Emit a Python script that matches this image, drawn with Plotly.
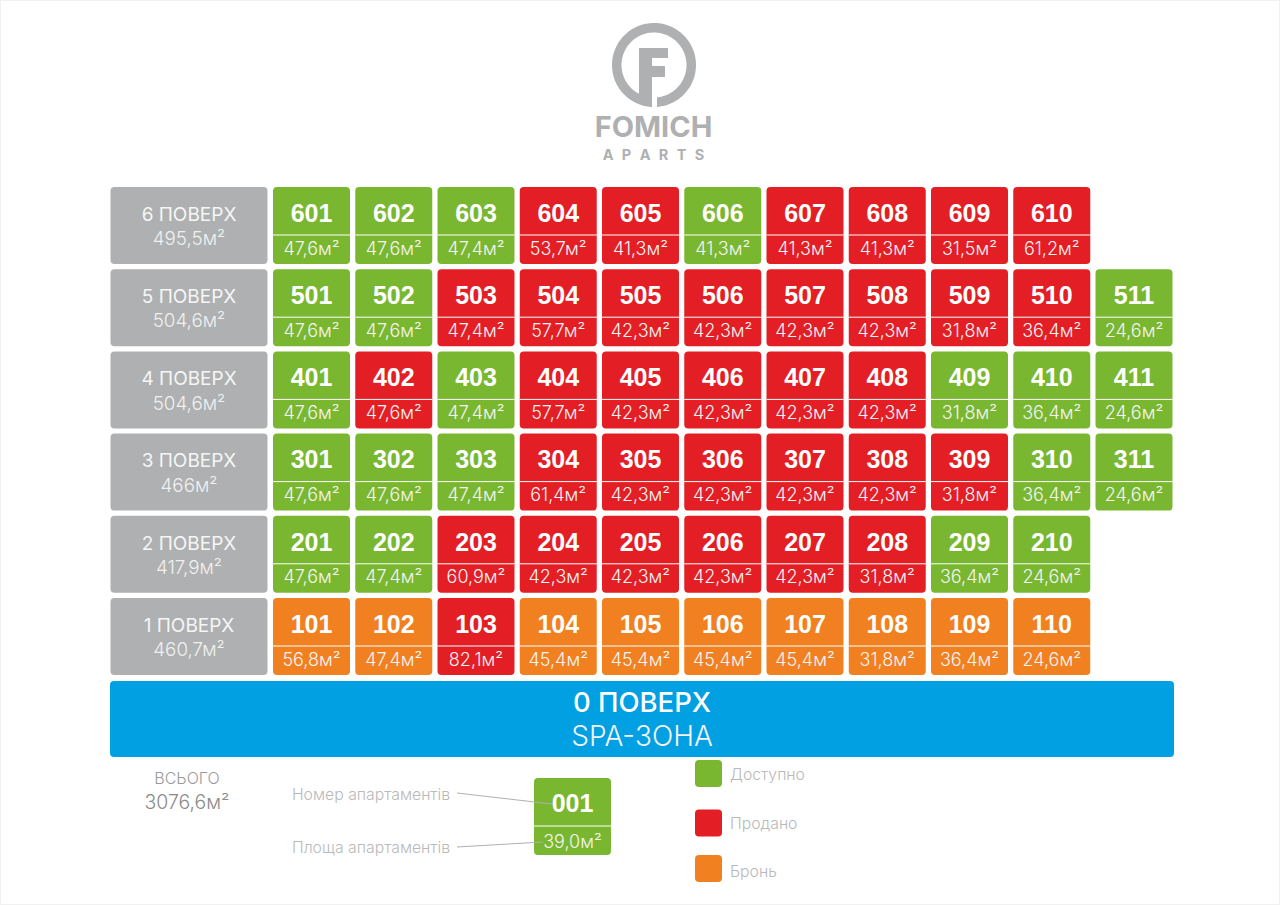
import numpy as np
import plotly.graph_objects as go

# floors, top to bottom
floor_names = ['6 ПОВЕРХ', '5 ПОВЕРХ', '4 ПОВЕРХ', '3 ПОВЕРХ', '2 ПОВЕРХ', '1 ПОВЕРХ']
floor_totals = ['495,5', '504,6', '504,6', '466', '417,9', '460,7']

rooms_6 = [601, 602, 603, 604, 605, 606, 607, 608, 609, 610]
rooms_5 = [501, 502, 503, 504, 505, 506, 507, 508, 509, 510, 511]
rooms_4 = [401, 402, 403, 404, 405, 406, 407, 408, 409, 410, 411]
rooms_3 = [301, 302, 303, 304, 305, 306, 307, 308, 309, 310, 311]
rooms_2 = [201, 202, 203, 204, 205, 206, 207, 208, 209, 210]
rooms_1 = [101, 102, 103, 104, 105, 106, 107, 108, 109, 110]

areas_6 = [47.6, 47.6, 47.4, 53.7, 41.3, 41.3, 41.3, 41.3, 31.5, 61.2]
areas_5 = [47.6, 47.6, 47.4, 57.7, 42.3, 42.3, 42.3, 42.3, 31.8, 36.4, 24.6]
areas_4 = [47.6, 47.6, 47.4, 57.7, 42.3, 42.3, 42.3, 42.3, 31.8, 36.4, 24.6]
areas_3 = [47.6, 47.6, 47.4, 61.4, 42.3, 42.3, 42.3, 42.3, 31.8, 36.4, 24.6]
areas_2 = [47.6, 47.4, 60.9, 42.3, 42.3, 42.3, 42.3, 31.8, 36.4, 24.6]
areas_1 = [56.8, 47.4, 82.1, 45.4, 45.4, 45.4, 45.4, 31.8, 36.4, 24.6]

# g - available, r - sold, o - booked
status_6 = list('gggrrgrrrr')
status_5 = list('ggrrrrrrrrg')
status_4 = list('grgrrrrrggg')
status_3 = list('gggrrrrrrgg')
status_2 = list('ggrrrrrrgg')
status_1 = list('oorooooooo')

rooms = [rooms_6, rooms_5, rooms_4, rooms_3, rooms_2, rooms_1]
areas = [areas_6, areas_5, areas_4, areas_3, areas_2, areas_1]
statuses = [status_6, status_5, status_4, status_3, status_2, status_1]

legend_labels = ['Доступно', 'Продано', 'Бронь']
legend_status = ['g', 'r', 'o']

GREEN = '#7ab730'
RED = '#e31e24'
ORANGE = '#f18120'
GREY = '#aeb0b1'
BLUE = '#00a0e3'
colors = {'g': GREEN, 'r': RED, 'o': ORANGE}

# grid layout in page pixels
X0, Y0 = 273.0, 187.0
PITCH_X, PITCH_Y = 82.25, 82.2
CELL = 77
LINE_Y = 48

NUM_FONT = dict(family='Liberation Sans', size=25, color='white', weight=700)
AREA_FONT = dict(family='Inter', size=18, color='#f4f4f4', weight=300)


def fmt_area(v):
    return f'{v:.1f}'.replace('.', ',') + 'м²'


def text_trace(xs, ys, labels, font):
    return go.Scatter(x=xs, y=ys, text=labels, mode='text', textposition='middle center',
                      textfont=font, hoverinfo='skip', showlegend=False)


fig = go.Figure()

# floor label boxes
floor_tops = [Y0 + i * PITCH_Y for i in range(len(floor_names))]
fig.add_trace(go.Bar(x=[189] * 6, y=[CELL] * 6, base=floor_tops, width=157,
                     marker=dict(color=GREY, line_width=0), hoverinfo='skip', showlegend=False))
fig.add_trace(text_trace([189] * 6, [t + 29 for t in floor_tops], floor_names,
                         dict(family='Inter', size=19, color='#f6f6f6', weight=400)))
fig.add_trace(text_trace([189] * 6, [t + 53.5 for t in floor_tops],
                         [t + 'м²' for t in floor_totals],
                         dict(family='Inter', size=18.8, color='#f0f0f0', weight=300)))

# apartments, floor by floor
line_x, line_y = [], []
for row in range(len(rooms)):
    top = floor_tops[row]
    xs = [X0 + CELL / 2 + i * PITCH_X for i in range(len(rooms[row]))]
    fig.add_trace(go.Bar(x=xs, y=[CELL] * len(xs), base=[top] * len(xs), width=CELL,
                         marker=dict(color=[colors[s] for s in statuses[row]], line_width=0),
                         hoverinfo='skip', showlegend=False))
    fig.add_trace(text_trace(xs, [top + 28.5] * len(xs), rooms[row], NUM_FONT))
    fig.add_trace(text_trace(xs, [top + 63] * len(xs), [fmt_area(a) for a in areas[row]], AREA_FONT))
    for x in xs:
        line_x += [x - CELL / 2, x + CELL / 2, None]
        line_y += [top + LINE_Y, top + LINE_Y, None]

# floor 0
fig.add_trace(go.Bar(x=[642], y=[76], base=[681], width=1064,
                     marker=dict(color=BLUE, line_width=0), hoverinfo='skip', showlegend=False))
fig.add_trace(text_trace([642], [705], ['0 ПОВЕРХ'],
                         dict(family='Inter', size=27.5, color='white', weight=500)))
fig.add_trace(text_trace([642], [739], ['SPA-ЗОНА'],
                         dict(family='Inter', size=28, color='#f4f4f4', weight=300)))

# sample apartment
fig.add_trace(go.Bar(x=[572.5], y=[CELL], base=[778], width=CELL,
                     marker=dict(color=GREEN, line_width=0), hoverinfo='skip', showlegend=False))
line_x += [534, 611, None]
line_y += [826, 826, None]

fig.add_trace(go.Scatter(x=line_x, y=line_y, mode='lines', line=dict(color='white', width=1),
                         hoverinfo='skip', showlegend=False))

# leader lines to the sample
fig.add_trace(go.Scatter(x=[457, 552, None, 457, 543], y=[793, 804, None, 847, 842], mode='lines',
                         line=dict(color='#b0b0b0', width=1), hoverinfo='skip', showlegend=False))
fig.add_trace(text_trace([572.5], [805.5], ['001'], NUM_FONT))
fig.add_trace(text_trace([572.5], [843], [fmt_area(39.0)], AREA_FONT))
fig.add_trace(text_trace([371, 371], [796, 849], ['Номер апартаментів', 'Площа апартаментів'],
                         dict(family='Inter', size=15.8, color='#b9b9b9', weight=300)))

# totals
fig.add_trace(text_trace([187], [780], ['ВСЬОГО'], dict(family='Inter', size=16, color='#9a9a9a', weight=300)))
fig.add_trace(text_trace([187], [804], ['3076,6м²'], dict(family='Inter', size=19.4, color='#8a8a8a', weight=300)))

# legend
legend_tops = [760, 809.5, 855]
fig.add_trace(go.Bar(x=[708.5] * 3, y=[27] * 3, base=legend_tops, width=27,
                     marker=dict(color=[colors[s] for s in legend_status], line_width=0),
                     hoverinfo='skip', showlegend=False))
fig.add_trace(go.Scatter(x=[730] * 3, y=[776, 825, 873], text=legend_labels, mode='text',
                         textposition='middle right',
                         textfont=dict(family='Inter', size=15.8, color='#b9b9b9', weight=300),
                         hoverinfo='skip', showlegend=False))

# logo: ring with a gap at the bottom, F on top
cx, cy, r_out, r_in = 654, 65, 42, 32.5
gap_l, gap_r = 652, 657


def arc(radius):
    a = np.linspace(np.arcsin((cx - gap_l) / radius), 2 * np.pi + np.arcsin((cx - gap_r) / radius), 120)
    return [(cx - radius * np.sin(t), cy + radius * np.cos(t)) for t in a]


ring = 'M ' + ' L '.join(f'{x:.2f},{y:.2f}' for x, y in arc(r_out) + arc(r_in)[::-1]) + ' Z'
logo_f = 'M 639,48 L 668,48 L 668,58 L 652,58 L 652,66 L 665,66 L 665,77 L 652,77 L 652,107 L 639,104 Z'

fig.add_trace(text_trace([653.5], [129.5], ['FOMICH'],
                         dict(family='Inter', size=29, color=GREY, weight=700)))
fig.add_trace(text_trace([653.5], [156], ['A\u2002\u200aP\u2002\u200aA\u2002\u200aR\u2002\u200aT\u2002\u200aS'],
                         dict(family='Inter', size=14.5, color=GREY, weight=700)))

fig.update_layout(
    width=1280, height=905,
    margin=dict(l=0, r=0, t=0, b=0),
    paper_bgcolor='white', plot_bgcolor='white',
    barmode='overlay', barcornerradius=4,
    xaxis=dict(range=[0, 1280], visible=False, fixedrange=True),
    yaxis=dict(range=[905, 0], visible=False, fixedrange=True),
    shapes=[dict(type='path', path=ring, fillcolor=GREY, line_width=0),
            dict(type='path', path=logo_f, fillcolor=GREY, line_width=0),
            dict(type='rect', x0=0, x1=1280, y0=0, y1=905, line=dict(color='#f1f1f1', width=2))],
)

fig.write_html('out.html', config={'displayModeBar': False},
               post_script="document.body.style.margin='0';document.body.style.overflow='hidden';")
